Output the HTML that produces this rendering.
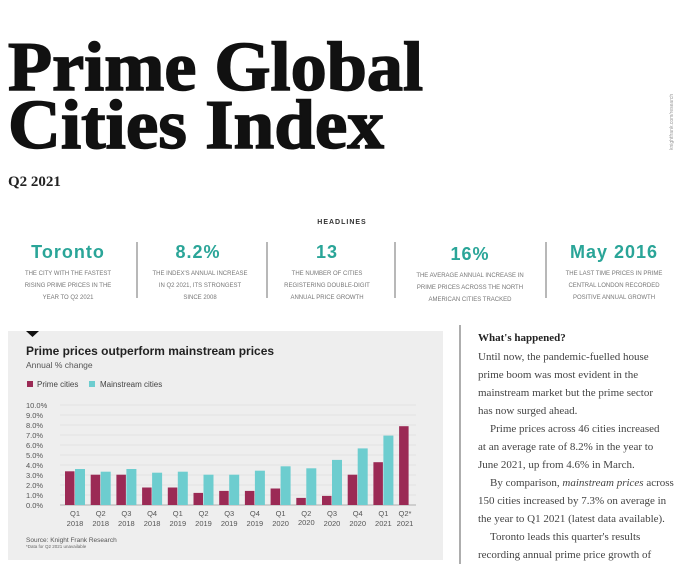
<!DOCTYPE html>
<html><head><meta charset="utf-8"><style>
html,body{margin:0;padding:0;background:#fff;width:677px;height:564px;overflow:hidden}
svg{display:block}
.s{font-family:"Liberation Sans",sans-serif}
.r{font-family:"Liberation Serif",serif}
</style></head><body>
<svg width="677" height="564" viewBox="0 0 677 564">
<text x="8" y="90" class="r" font-weight="bold" font-size="70" fill="#111" stroke="#111" stroke-width="1.5" textLength="415" lengthAdjust="spacingAndGlyphs">Prime Global</text>
<text x="8" y="148" class="r" font-weight="bold" font-size="70" fill="#111" stroke="#111" stroke-width="1.5" textLength="376" lengthAdjust="spacingAndGlyphs">Cities Index</text>
<text x="8" y="186" class="r" font-weight="bold" font-size="15" fill="#222">Q2 2021</text>
<text x="342" y="224" class="s" font-weight="bold" font-size="7" fill="#333" text-anchor="middle" letter-spacing="1">HEADLINES</text>
<g class="s" font-weight="bold" font-size="18" fill="#2aa598" text-anchor="middle" letter-spacing="1">
<text x="68" y="258">Toronto</text><text x="198" y="258">8.2%</text><text x="327" y="258">13</text><text x="470" y="260">16%</text><text x="614" y="258">May 2016</text></g>
<g stroke="#888" stroke-width="1.2"><line x1="137" y1="242" x2="137" y2="298"/><line x1="267" y1="242" x2="267" y2="298"/><line x1="395" y1="242" x2="395" y2="298"/><line x1="546" y1="242" x2="546" y2="298"/></g>
<g class="s" font-size="6" fill="#777" text-anchor="middle">
<text x="68" y="275">THE CITY WITH THE FASTEST</text><text x="68" y="287">RISING PRIME PRICES IN THE</text><text x="68" y="299">YEAR TO Q2 2021</text>
<text x="200" y="275">THE INDEX'S ANNUAL INCREASE</text><text x="200" y="287">IN Q2 2021, ITS STRONGEST</text><text x="200" y="299">SINCE 2008</text>
<text x="327" y="275">THE NUMBER OF CITIES</text><text x="327" y="287">REGISTERING DOUBLE-DIGIT</text><text x="327" y="299">ANNUAL PRICE GROWTH</text>
<text x="470" y="277">THE AVERAGE ANNUAL INCREASE IN</text><text x="470" y="289">PRIME PRICES ACROSS THE NORTH</text><text x="470" y="301">AMERICAN CITIES TRACKED</text>
<text x="614" y="275">THE LAST TIME PRICES IN PRIME</text><text x="614" y="287">CENTRAL LONDON RECORDED</text><text x="614" y="299">POSITIVE ANNUAL GROWTH</text></g>
<rect x="8" y="331" width="435" height="229" fill="#eeeeee"/>
<polygon points="26,331 39,331 32.5,337" fill="#111"/>
<text x="26" y="355" class="s" font-weight="bold" font-size="12" fill="#222" textLength="248" lengthAdjust="spacingAndGlyphs">Prime prices outperform mainstream prices</text>
<text x="26" y="368" class="s" font-size="8.5" fill="#555">Annual % change</text>
<rect x="27" y="381" width="6" height="6" fill="#9b2a55"/><text x="37" y="387" class="s" font-size="8" fill="#444">Prime cities</text>
<rect x="89" y="381" width="6" height="6" fill="#6dcdcf"/><text x="100" y="387" class="s" font-size="8" fill="#444">Mainstream cities</text>
<g stroke="#dcdcdc" stroke-width="0.8">
<line x1="60" y1="405" x2="416" y2="405"/><line x1="60" y1="415" x2="416" y2="415"/><line x1="60" y1="425" x2="416" y2="425"/><line x1="60" y1="435" x2="416" y2="435"/><line x1="60" y1="445" x2="416" y2="445"/><line x1="60" y1="455" x2="416" y2="455"/><line x1="60" y1="465" x2="416" y2="465"/><line x1="60" y1="475" x2="416" y2="475"/><line x1="60" y1="485" x2="416" y2="485"/><line x1="60" y1="495" x2="416" y2="495"/></g>
<line x1="60" y1="505" x2="416" y2="505" stroke="#999" stroke-width="0.8"/>
<g class="s" font-size="7.5" fill="#555">
<text x="26" y="408">10.0%</text><text x="26" y="418">9.0%</text><text x="26" y="428">8.0%</text><text x="26" y="438">7.0%</text><text x="26" y="448">6.0%</text><text x="26" y="458">5.0%</text><text x="26" y="468">4.0%</text><text x="26" y="478">3.0%</text><text x="26" y="488">2.0%</text><text x="26" y="498">1.0%</text><text x="26" y="508">0.0%</text></g>
<g fill="#9b2a55">
<rect x="65" y="471.3" width="9.5" height="33.7"/><rect x="90.7" y="474.7" width="9.5" height="30.3"/><rect x="116.4" y="474.7" width="9.5" height="30.3"/><rect x="142.1" y="487.5" width="9.5" height="17.5"/><rect x="167.8" y="487.5" width="9.5" height="17.5"/><rect x="193.5" y="492.9" width="9.5" height="12.1"/><rect x="219.2" y="490.9" width="9.5" height="14.1"/><rect x="244.9" y="490.9" width="9.5" height="14.1"/><rect x="270.6" y="488.5" width="9.5" height="16.5"/><rect x="296.3" y="497.9" width="9.5" height="7.1"/><rect x="322" y="495.9" width="9.5" height="9.1"/><rect x="347.7" y="474.7" width="9.5" height="30.3"/><rect x="373.4" y="462.2" width="9.5" height="42.8"/><rect x="399.1" y="426.2" width="9.5" height="78.8"/></g>
<g fill="#6dcdcf">
<rect x="75" y="469" width="10" height="36"/><rect x="100.7" y="471.7" width="10" height="33.3"/><rect x="126.4" y="469" width="10" height="36"/><rect x="152.1" y="472.7" width="10" height="32.3"/><rect x="177.8" y="471.7" width="10" height="33.3"/><rect x="203.5" y="474.7" width="10" height="30.3"/><rect x="229.2" y="474.7" width="10" height="30.3"/><rect x="254.9" y="470.7" width="10" height="34.3"/><rect x="280.6" y="466.3" width="10" height="38.7"/><rect x="306.3" y="468.3" width="10" height="36.7"/><rect x="332" y="459.9" width="10" height="45.1"/><rect x="357.7" y="448.4" width="10" height="56.6"/><rect x="383.4" y="435.6" width="10" height="69.4"/></g>
<g class="s" font-size="7.5" fill="#555" text-anchor="middle">
<text x="75" y="516">Q1</text><text x="75" y="526">2018</text>
<text x="100.7" y="516">Q2</text><text x="100.7" y="526">2018</text>
<text x="126.4" y="516">Q3</text><text x="126.4" y="526">2018</text>
<text x="152.1" y="516">Q4</text><text x="152.1" y="526">2018</text>
<text x="177.8" y="516">Q1</text><text x="177.8" y="526">2019</text>
<text x="203.5" y="516">Q2</text><text x="203.5" y="526">2019</text>
<text x="229.2" y="516">Q3</text><text x="229.2" y="526">2019</text>
<text x="254.9" y="516">Q4</text><text x="254.9" y="526">2019</text>
<text x="280.6" y="516">Q1</text><text x="280.6" y="526">2020</text>
<text x="306.3" y="516">Q2</text><text x="306.3" y="525">2020</text>
<text x="332" y="516">Q3</text><text x="332" y="526">2020</text>
<text x="357.7" y="516">Q4</text><text x="357.7" y="526">2020</text>
<text x="383.4" y="516">Q1</text><text x="383.4" y="526">2021</text>
<text x="405" y="516">Q2*</text><text x="405" y="526">2021</text></g>
<text x="26" y="542" class="s" font-size="6.5" fill="#555">Source: Knight Frank Research</text>
<text x="26" y="548" class="s" font-size="4.5" fill="#666">*Data for Q2 2021 unavailable</text>
<line x1="460" y1="325" x2="460" y2="564" stroke="#777" stroke-width="1.2"/>
<g class="r" font-size="11" fill="#444">
<text x="478" y="341" font-weight="bold" fill="#222">What's happened?</text>
<text x="478" y="360">Until now, the pandemic-fuelled house</text>
<text x="478" y="378">prime boom was most evident in the</text>
<text x="478" y="396">mainstream market but the prime sector</text>
<text x="478" y="414">has now surged ahead.</text>
<text x="490" y="432">Prime prices across 46 cities increased</text>
<text x="478" y="450">at an average rate of 8.2% in the year to</text>
<text x="478" y="468">June 2021, up from 4.6% in March.</text>
<text x="490" y="486">By comparison, <tspan font-style="italic">mainstream prices</tspan> across</text>
<text x="478" y="504">150 cities increased by 7.3% on average in</text>
<text x="478" y="522">the year to Q1 2021 (latest data available).</text>
<text x="490" y="540">Toronto leads this quarter's results</text>
<text x="478" y="558">recording annual prime price growth of</text></g>
<text transform="translate(673,150) rotate(-90)" class="s" font-size="5" fill="#999">knightfrank.com/research</text>
</svg>
</body></html>
